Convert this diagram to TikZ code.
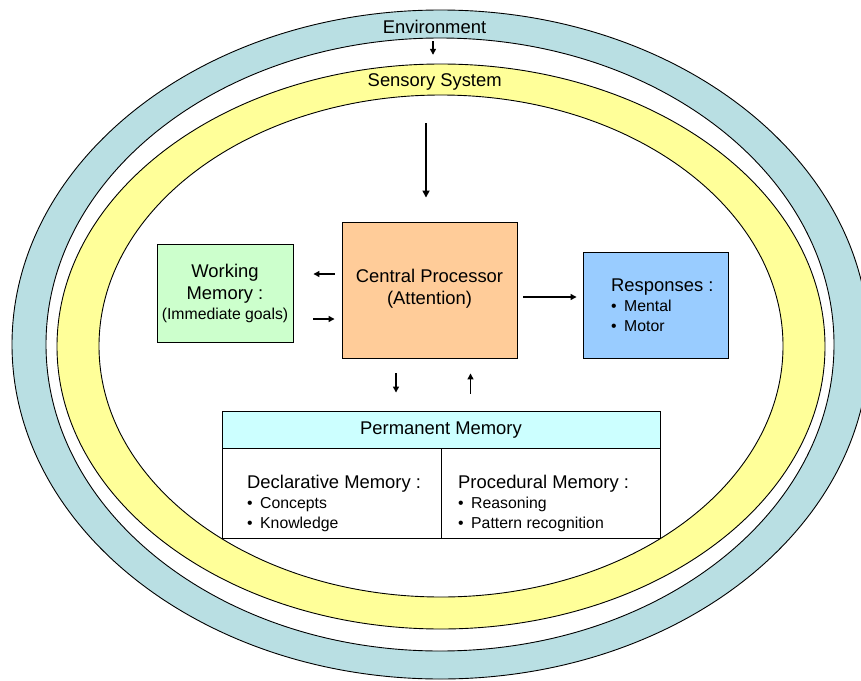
\documentclass[tikz,border=0pt]{standalone}
\usepackage{fontspec}
\setmainfont{Liberation Sans}
\usetikzlibrary{arrows.meta}

\definecolor{envteal}{HTML}{B9DFE3}
\definecolor{sensyellow}{HTML}{FFFF99}
\definecolor{wmgreen}{HTML}{CCFFCC}
\definecolor{cporange}{HTML}{FFCC99}
\definecolor{respblue}{HTML}{99CCFF}
\definecolor{pmcyan}{HTML}{CCFFFF}

\newcommand{\bigfont}{\fontsize{18.4}{22}\selectfont}
\newcommand{\smallfont}{\fontsize{15.8}{20}\selectfont}
\newcommand{\bul}{\makebox[13pt][l]{\textbullet}}

\begin{document}
\begin{tikzpicture}[x=1pt,y=-1pt,
  label text/.style={font=\bigfont, inner sep=0pt, text height=13.5pt, text depth=3.5pt},
  block text/.style={font=\smallfont, inner sep=0pt, align=left},
  box/.style={draw=black, line width=0.9pt, inner sep=0pt},
  ring line/.style={draw=black, line width=0.9pt},
  arr/.style={-{Triangle[length=6pt,width=6pt]}, line width=1.3pt},
  bigarr/.style={-{Triangle[length=7pt,width=7pt]}, line width=1.6pt}
]
\useasboundingbox (0,0) rectangle (861,680);
\clip (0,0) rectangle (861,680);

% environment ring
\fill[envteal, even odd rule]
  (440.5,344.5) ellipse [x radius=428.5pt, y radius=334.5pt]
  (440,344.5) ellipse [x radius=394pt, y radius=306.5pt];
\draw[ring line] (440.5,344.5) ellipse [x radius=428.5pt, y radius=334.5pt];
\draw[ring line] (440,344.5) ellipse [x radius=394pt, y radius=306.5pt];

% sensory system ring
\fill[sensyellow, even odd rule]
  (441,346.5) ellipse [x radius=384pt, y radius=282.5pt]
  (441,346) ellipse [x radius=342pt, y radius=251pt];
\draw[ring line] (441,346.5) ellipse [x radius=384pt, y radius=282.5pt];
\draw[ring line] (441,346) ellipse [x radius=342pt, y radius=251pt];

% ring labels
\node[label text] (env) at (434.5,28) {Environment};
\node[label text] (sens) at (434.7,81) {Sensory System};

% working memory
\node[box, fill=wmgreen, minimum width=136pt, minimum height=98pt,
      font=\bigfont, align=center] (wm) at (225,293)
  {Working\\Memory :\\[-2pt]\fontsize{15.8}{23}\selectfont(Immediate goals)};

% central processor
\node[box, fill=cporange, minimum width=175pt, minimum height=136pt] (cp) at (429.5,290) {};
\node[font=\bigfont, inner sep=0pt, align=center] (cptext) at (429.5,288.5)
  {Central Processor\\(Attention)};

% responses
\node[box, fill=respblue, minimum width=145pt, minimum height=106pt] (resp) at (655.5,305) {};
\node[block text, anchor=west] (resptext) at (611,305)
  {\bigfont Responses :\\\bul Mental\\\bul Motor};

% permanent memory
\node[box, fill=pmcyan, minimum width=438pt, minimum height=38pt, font=\bigfont] (pmhead) at (441,430)
  {Permanent Memory};
\node[box, fill=white, minimum width=219pt, minimum height=90pt] (decl) at (331.5,493) {};
\node[box, fill=white, minimum width=219pt, minimum height=90pt] (proc) at (550.5,493) {};
\node[block text, anchor=west] (decltext) at (247,503)
  {\bigfont Declarative Memory :\\\bul Concepts\\\bul Knowledge};
\node[block text, anchor=west] (proctext) at (458,503)
  {\bigfont Procedural Memory :\\\bul Reasoning\\\bul Pattern recognition};

% information flow
\draw[arr, shorten <=4.5pt, shorten >=17.5pt] ([xshift=-1.5pt]env.south) -- ([xshift=-1.5pt]env.south |- sens.north);
\draw[bigarr, shorten <=33.5pt, shorten >=24pt] ([xshift=-3.5pt]cp.north |- sens.south) -- ([xshift=-3.5pt]cp.north);
\draw[arr, shorten <=7pt, shorten >=20pt] (cp.west |- 0,274) -- (wm.east |- 0,274);
\draw[arr, shorten <=20pt, shorten >=7pt] (wm.east |- 0,319) -- (cp.west |- 0,319);
\draw[arr, shorten <=6pt, shorten >=6pt] (cp.east |- 0,297) -- (resp.west |- 0,297);
\draw[arr, shorten <=15pt, shorten >=18pt] (cp.south -| 396,0) -- (pmhead.north -| 396,0);
\draw[arr, shorten <=17pt, shorten >=15pt] (pmhead.north -| 470.5,0) -- (cp.south -| 470.5,0);
\end{tikzpicture}
\end{document}
